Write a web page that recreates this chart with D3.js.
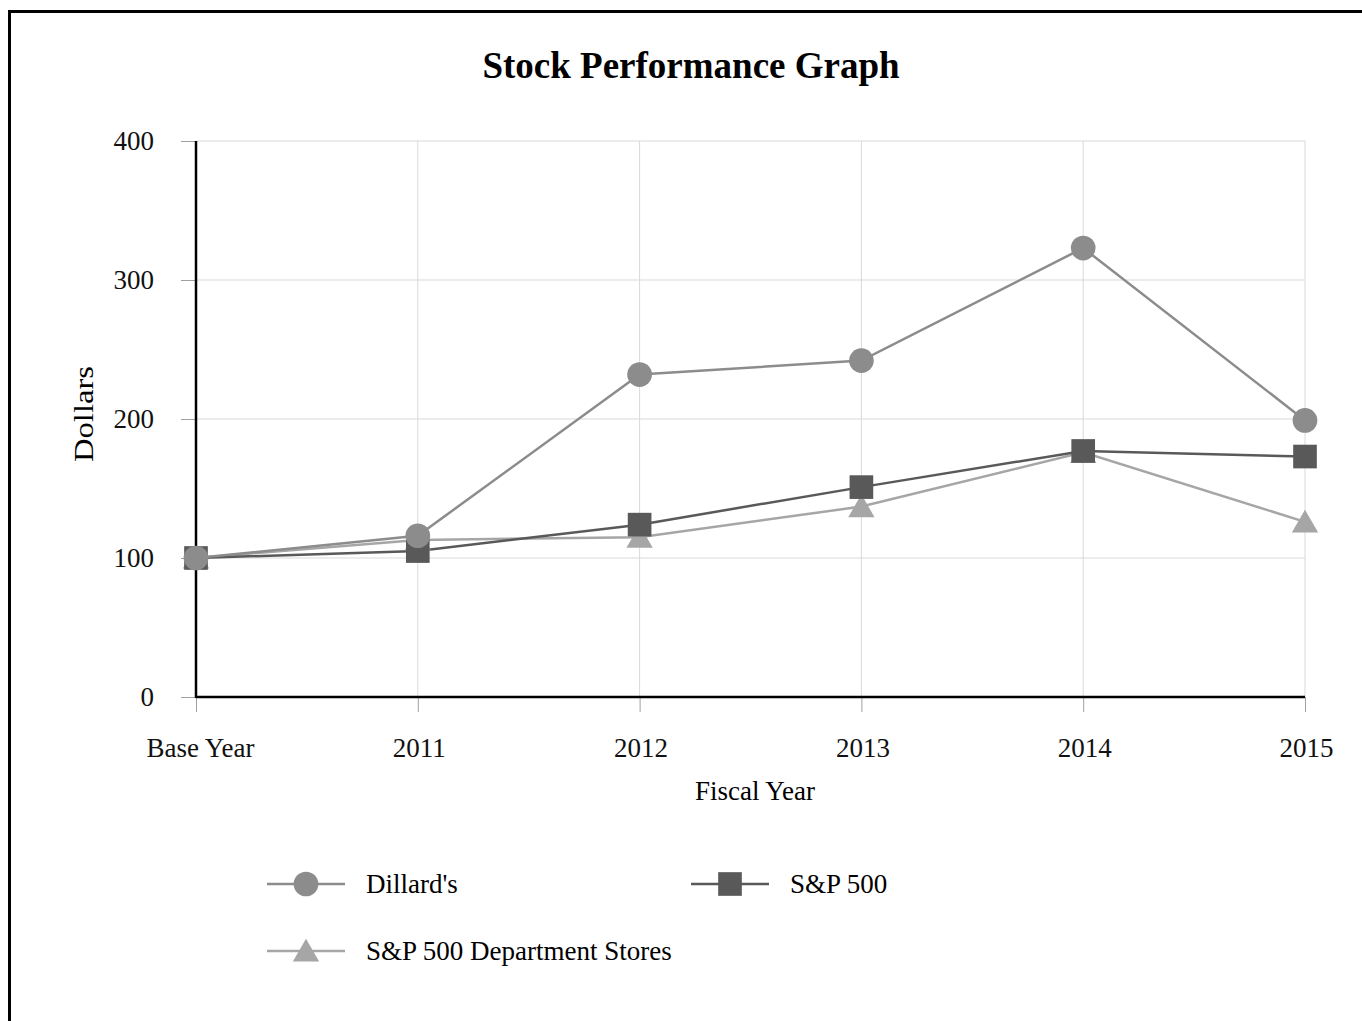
<!DOCTYPE html>
<html>
<head>
<meta charset="utf-8">
<title>Stock Performance Graph</title>
<script src="https://cdn.jsdelivr.net/npm/d3@7"></script>
<style>
  body { margin: 0; background: #fff; }
  svg { display: block; font-family: "Liberation Serif", "Times New Roman", serif; }
  .grid line { stroke: #d9d9d9; stroke-width: 1; }
  .tick text { font-size: 27px; fill: #111; }
</style>
</head>
<body>
<script>
// data
var years = ["Base Year", "2011", "2012", "2013", "2014", "2015"];
var dillards = [100, 116, 232, 242, 323, 199];
var sp500 = [100, 105, 124, 151, 177, 173];
var deptStores = [100, 113, 115, 137, 176, 126];
var yTicks = [0, 100, 200, 300, 400];

var series = [
  {name: "Dillard's", values: dillards, color: "#8c8c8c", shape: d3.symbolCircle},
  {name: "S&P 500", values: sp500, color: "#595959", shape: d3.symbolSquare},
  {name: "S&P 500 Department Stores", values: deptStores, color: "#a6a6a6", shape: d3.symbolTriangle}
];

var width = 1362, height = 1021;
var pLeft = 196, pRight = 1305, pTop = 141, pBottom = 697;

var svg = d3.select("body").append("svg")
    .attr("width", width)
    .attr("height", height);

// outer frame (only left/top visible in the picture)
svg.append("rect")
    .attr("x", 9.5).attr("y", 11.5)
    .attr("width", width + 20).attr("height", height + 20)
    .attr("fill", "none").attr("stroke", "#000").attr("stroke-width", 3);

var x = d3.scalePoint().domain(years).range([pLeft, pRight]);
var y = d3.scaleLinear().domain([0, 400]).range([pBottom, pTop]);

// gridlines
var grid = svg.append("g").attr("class", "grid");
grid.selectAll("line.h").data(yTicks.slice(1)).enter().append("line")
    .attr("class", "h")
    .attr("x1", pLeft).attr("x2", pRight)
    .attr("y1", function (d) { return y(d); }).attr("y2", function (d) { return y(d); });
grid.selectAll("line.v").data(years.slice(1)).enter().append("line")
    .attr("class", "v")
    .attr("x1", function (d) { return x(d); }).attr("x2", function (d) { return x(d); })
    .attr("y1", pTop).attr("y2", pBottom);

// axes
var yAxis = svg.append("g")
    .attr("transform", "translate(" + pLeft + ",0)")
    .call(d3.axisLeft(y).tickValues(yTicks).tickSize(15).tickPadding(27));
var xAxis = svg.append("g")
    .attr("transform", "translate(0," + pBottom + ")")
    .call(d3.axisBottom(x).tickSize(15).tickPadding(26));

[yAxis, xAxis].forEach(function (a) {
  a.select(".domain").remove();
  a.selectAll(".tick line").attr("stroke", "#a0a0a0");
  a.selectAll(".tick text").attr("font-family", "Liberation Serif");
});
yAxis.selectAll(".tick text").attr("dy", "0.32em");
xAxis.selectAll(".tick text").attr("dx", function (d) { return d === "Base Year" ? 4 : 1; });

svg.append("line").attr("x1", pLeft).attr("x2", pLeft).attr("y1", pTop).attr("y2", pBottom + 1)
    .attr("stroke", "#000").attr("stroke-width", 2.5);
svg.append("line").attr("x1", pLeft).attr("x2", pRight).attr("y1", pBottom).attr("y2", pBottom)
    .attr("stroke", "#000").attr("stroke-width", 2.5);

// lines and markers (draw in reverse so Dillard's is on top)
var line = d3.line()
    .x(function (d, i) { return x(years[i]); })
    .y(function (d) { return y(d); });

function symSize(shape) {
  return shape === d3.symbolTriangle ? 300 : (shape === d3.symbolSquare ? 560 : 480);
}

var order = [series[2], series[1], series[0]];
order.forEach(function (s) {
  svg.append("path")
      .datum(s.values)
      .attr("d", line)
      .attr("fill", "none")
      .attr("stroke", s.color)
      .attr("stroke-width", 2.5);
});
order.forEach(function (s) {
  var sym = d3.symbol().type(s.shape).size(symSize(s.shape));
  svg.append("g").selectAll("path").data(s.values).enter().append("path")
      .attr("d", sym)
      .attr("transform", function (d, i) {
        var dy = s.shape === d3.symbolTriangle ? 3 : 0;
        return "translate(" + x(years[i]) + "," + (y(d) + dy) + ")";
      })
      .attr("fill", s.color);
});

// titles
svg.append("text")
    .attr("x", 691).attr("y", 78)
    .attr("text-anchor", "middle")
    .attr("font-size", 37).attr("font-weight", "bold")
    .text("Stock Performance Graph");

svg.append("text")
    .attr("transform", "translate(93,414) rotate(-90)")
    .attr("text-anchor", "middle")
    .attr("font-size", 27)
    .attr("textLength", 96)
    .attr("lengthAdjust", "spacingAndGlyphs")
    .text("Dollars");

svg.append("text")
    .attr("x", 755).attr("y", 800)
    .attr("text-anchor", "middle")
    .attr("font-size", 27)
    .text("Fiscal Year");

// legend
var legendPos = [[267, 884], [691, 884], [267, 951]];
series.forEach(function (s, i) {
  var p = legendPos[i];
  var g = svg.append("g").attr("transform", "translate(" + p[0] + "," + p[1] + ")");
  g.append("line").attr("x1", 0).attr("x2", 78).attr("y1", 0).attr("y2", 0)
      .attr("stroke", s.color).attr("stroke-width", 2.5);
  g.append("path").attr("d", d3.symbol().type(s.shape).size(symSize(s.shape)))
      .attr("transform", "translate(39," + (s.shape === d3.symbolTriangle ? 3 : 0) + ")")
      .attr("fill", s.color);
  g.append("text").attr("x", 99).attr("y", 9)
      .attr("font-size", 27)
      .text(s.name);
});
</script>
</body>
</html>
